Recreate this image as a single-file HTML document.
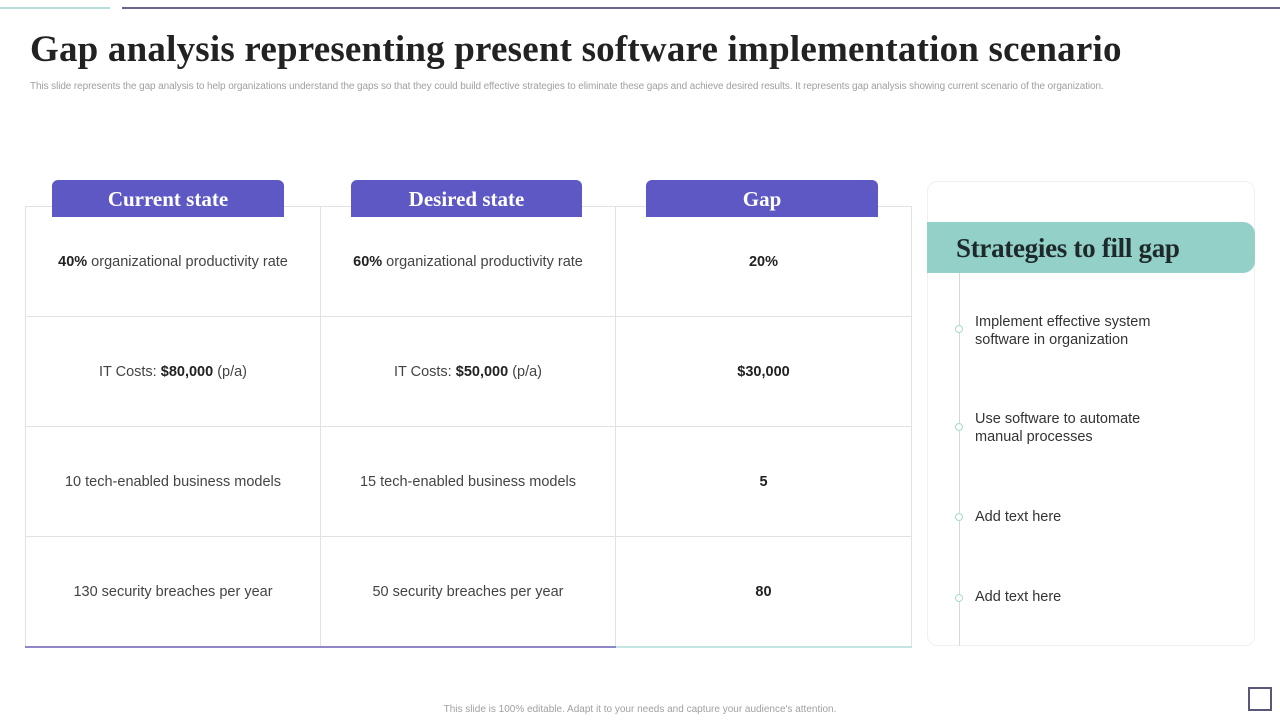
<!DOCTYPE html>
<html><head><meta charset="utf-8">
<style>
body{margin:0;width:1280px;height:720px;position:relative;background:#fff;font-family:"Liberation Sans",sans-serif;overflow:hidden}
.a{position:absolute}
.title{left:30px;top:28px;font-family:"Liberation Serif",serif;font-weight:bold;font-size:37px;color:#222;white-space:nowrap;letter-spacing:0.2px}
.sub{left:30px;top:81px;font-size:10px;color:#a0a0a0;white-space:nowrap;letter-spacing:-0.1px}
.tab{top:180px;height:37px;background:#5e58c4;border-radius:6px 6px 0 0;color:#fff;font-family:"Liberation Serif",serif;font-weight:bold;font-size:21px;text-align:center;line-height:38px}
.cell{display:flex;align-items:center;justify-content:center;font-size:14.5px;color:#444;border-right:1px solid #e2e2e2;border-bottom:1px solid #e2e2e2;box-sizing:border-box;text-align:center}
.cell b{color:#222}
.strat{left:975px;font-size:14.5px;color:#333;line-height:18px}
.dot{left:955px;width:6px;height:6px;border:1px solid #a8d8d0;border-radius:50%;background:#fff}
</style></head><body>
<div class="a" style="left:0;top:7px;width:110px;height:2px;background:#b5e0da"></div>
<div class="a" style="left:122px;top:7px;width:1158px;height:2px;background:#6a6590"></div>
<div class="a title">Gap analysis representing present software implementation scenario</div>
<div class="a sub">This slide represents the gap analysis to help organizations understand the gaps so that they could build effective strategies to eliminate these gaps and achieve desired results. It represents gap analysis showing current scenario of the organization.</div>

<div class="a" style="left:25px;top:206px;width:887px;height:441px;border-top:1px solid #e2e2e2;border-left:1px solid #e2e2e2;box-sizing:border-box;display:grid;grid-template-columns:295px 295px 296px;grid-template-rows:110px 110px 110px 110px">
<div class="cell"><span><b>40%</b> organizational productivity rate</span></div>
<div class="cell"><span><b>60%</b> organizational productivity rate</span></div>
<div class="cell"><b>20%</b></div>
<div class="cell"><span>IT Costs: <b>$80,000</b> (p/a)</span></div>
<div class="cell"><span>IT Costs: <b>$50,000</b> (p/a)</span></div>
<div class="cell"><b>$30,000</b></div>
<div class="cell">10 tech-enabled business models</div>
<div class="cell">15 tech-enabled business models</div>
<div class="cell"><b>5</b></div>
<div class="cell">130 security breaches per year</div>
<div class="cell">50 security breaches per year</div>
<div class="cell"><b>80</b></div>
</div>
<div class="a" style="left:25px;top:646px;width:591px;height:2px;background:#8d86c8"></div>
<div class="a" style="left:616px;top:646px;width:296px;height:2px;background:#c5e5e0"></div>

<div class="a tab" style="left:52px;width:232px">Current state</div>
<div class="a tab" style="left:351px;width:231px">Desired state</div>
<div class="a tab" style="left:646px;width:232px">Gap</div>

<div class="a" style="left:927px;top:181px;width:328px;height:465px;border:1px solid #f0f0f0;border-radius:10px;box-sizing:border-box"></div>
<div class="a" style="left:927px;top:222px;width:328px;height:51px;background:#93d0c8;border-radius:0 12px 12px 0;font-family:'Liberation Serif',serif;font-weight:bold;font-size:27px;color:#1e2a2a;line-height:52px;padding-left:29px;box-sizing:border-box;letter-spacing:-0.3px">Strategies to fill gap</div>
<div class="a" style="left:959px;top:273px;width:1px;height:373px;background:#d8d8d8"></div>
<div class="a dot" style="top:325px"></div>
<div class="a dot" style="top:423px"></div>
<div class="a dot" style="top:513px"></div>
<div class="a dot" style="top:594px"></div>
<div class="a strat" style="top:313px">Implement effective system<br>software in organization</div>
<div class="a strat" style="top:410px">Use software to automate<br>manual processes</div>
<div class="a strat" style="top:508px">Add text here</div>
<div class="a strat" style="top:588px">Add text here</div>

<div class="a" style="left:0;width:1280px;top:704px;text-align:center;font-size:10px;color:#a0a0a0">This slide is 100% editable. Adapt it to your needs and capture your audience's attention.</div>
<div class="a" style="left:1248px;top:687px;width:24px;height:24px;border:2px solid #5a5878;box-sizing:border-box"></div>
</body></html>
